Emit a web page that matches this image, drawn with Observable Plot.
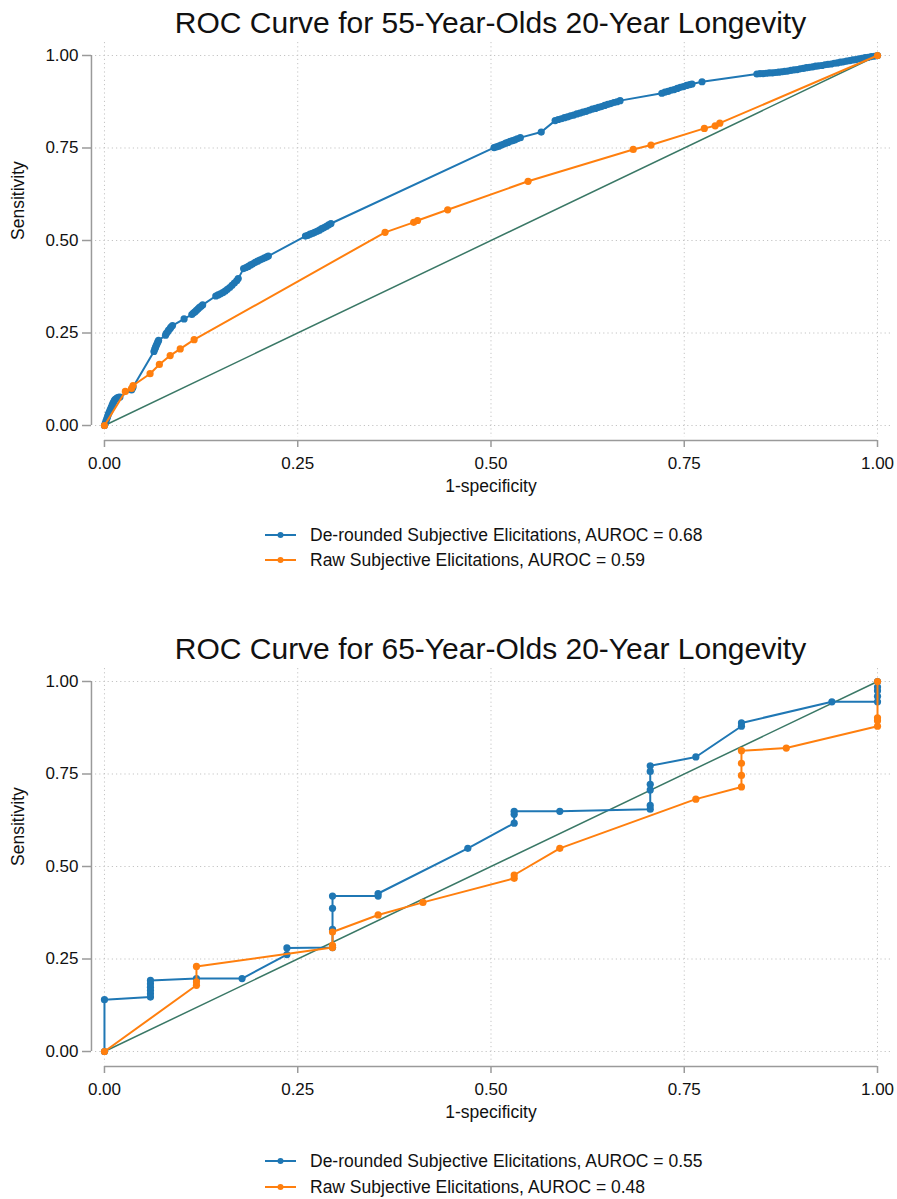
<!DOCTYPE html>
<html>
<head>
<meta charset="utf-8">
<script src="https://cdn.jsdelivr.net/npm/d3@7"></script>
<script src="https://cdn.jsdelivr.net/npm/@observablehq/plot@0.6"></script>
<style>
  html, body { margin: 0; padding: 0; background: #fff; }
  body { width: 897px; height: 1199px; position: relative; overflow: hidden;
         font-family: "Liberation Sans", Arial, sans-serif; color: #111; }
  .title { position: absolute; left: 90px; width: 801px; text-align: center;
           font-size: 30px; line-height: 30px; white-space: nowrap; }
  .chart { position: absolute; left: 0; }
  .leg { position: absolute; left: 265px; height: 20px; display: flex; align-items: center;
         font-size: 17.5px; white-space: nowrap; }
  .leg svg { margin-right: 14px; }
</style>
</head>
<body>
<script>
// ---------- data ----------
const xTicks = [0, 0.25, 0.5, 0.75, 1];
const yTicks = [0, 0.25, 0.5, 0.75, 1];
const refLine = [[0, 0], [1, 1]];

const titles = [
  "ROC Curve for 55-Year-Olds 20-Year Longevity",
  "ROC Curve for 65-Year-Olds 20-Year Longevity"
];
const seriesNames = ["De-rounded Subjective Elicitations", "Raw Subjective Elicitations"];
const aurocs55 = [0.68, 0.59];
const aurocs65 = [0.55, 0.48];

// 55-year-olds: [1-specificity, sensitivity]
const deRounded55 = [
  [0,0],[0.001,0.006],[0.002,0.012],[0.003,0.018],[0.004,0.024],[0.005,0.030],[0.006,0.035],[0.007,0.040],[0.008,0.045],
  [0.009,0.050],[0.010,0.055],[0.011,0.060],[0.012,0.064],[0.013,0.068],[0.014,0.071],[0.016,0.074],[0.018,0.076],[0.020,0.077],
  [0.035,0.096],[0.036,0.100],[0.037,0.104],
  [0.064,0.200],[0.065,0.206],[0.066,0.211],[0.067,0.216],[0.068,0.221],[0.069,0.226],[0.070,0.230],
  [0.079,0.244],[0.080,0.249],[0.082,0.254],[0.083,0.258],[0.085,0.262],[0.086,0.266],[0.088,0.270],
  [0.103,0.288],
  [0.113,0.300],[0.115,0.304],[0.117,0.307],[0.119,0.311],[0.121,0.315],[0.123,0.319],[0.125,0.322],[0.127,0.326],
  [0.144,0.350],[0.147,0.353],[0.150,0.356],[0.153,0.359],[0.156,0.363],[0.159,0.368],[0.162,0.373],[0.165,0.379],
  [0.168,0.385],[0.171,0.391],[0.173,0.397],
  [0.180,0.424],[0.183,0.427],[0.186,0.430],[0.189,0.434],[0.192,0.437],[0.195,0.441],[0.198,0.444],[0.201,0.447],
  [0.204,0.450],[0.207,0.453],[0.210,0.456],[0.212,0.458],
  [0.260,0.512],[0.263,0.514],[0.266,0.517],[0.269,0.519],[0.272,0.522],[0.275,0.525],[0.278,0.528],[0.281,0.532],
  [0.284,0.535],[0.287,0.538],[0.290,0.542],[0.293,0.546],
  [0.504,0.751],[0.507,0.753],[0.510,0.755],[0.513,0.758],[0.516,0.760],[0.519,0.763],[0.522,0.765],[0.525,0.768],
  [0.528,0.770],[0.531,0.772],[0.534,0.775],[0.538,0.778],
  [0.565,0.793],
  [0.583,0.824],[0.587,0.827],[0.591,0.829],[0.595,0.832],[0.599,0.834],[0.603,0.837],[0.607,0.839],[0.611,0.842],
  [0.615,0.844],[0.619,0.847],[0.623,0.849],[0.627,0.852],[0.631,0.855],[0.635,0.857],[0.639,0.860],[0.643,0.862],
  [0.647,0.865],[0.651,0.868],[0.655,0.870],[0.659,0.873],[0.663,0.875],[0.667,0.878],
  [0.721,0.898],[0.725,0.901],[0.729,0.903],[0.733,0.906],[0.737,0.908],[0.741,0.911],[0.745,0.914],[0.749,0.916],
  [0.753,0.919],[0.757,0.921],[0.760,0.923],
  [0.773,0.929],
  [0.844,0.950],[0.848,0.951],[0.852,0.951],[0.856,0.952],[0.860,0.953],[0.864,0.953],[0.868,0.954],[0.872,0.955],
  [0.876,0.956],[0.880,0.957],[0.884,0.958],[0.888,0.960],[0.892,0.961],[0.896,0.962],[0.900,0.964],[0.904,0.965],
  [0.908,0.967],[0.912,0.968],[0.916,0.969],[0.920,0.971],[0.924,0.972],[0.928,0.973],[0.932,0.975],[0.936,0.976],
  [0.940,0.977],[0.944,0.979],[0.948,0.980],[0.952,0.982],[0.956,0.983],[0.960,0.985],[0.964,0.986],[0.968,0.988],
  [0.972,0.989],[0.976,0.991],[0.980,0.992],[0.984,0.994],[0.988,0.995],[0.992,0.997],[0.996,0.998],[1,1]
];
const raw55 = [
  [0,0],[0.027,0.092],[0.035,0.100],[0.037,0.108],[0.059,0.140],[0.071,0.165],[0.085,0.189],[0.098,0.207],[0.116,0.232],
  [0.363,0.522],[0.400,0.549],[0.405,0.554],[0.444,0.583],[0.548,0.660],[0.684,0.746],[0.707,0.758],
  [0.776,0.803],[0.790,0.810],[0.796,0.817],[1,1]
];

// 65-year-olds
const deRounded65 = [
  [0,0],[0,0.140],[0.0595,0.147],[0.0595,0.156],[0.0595,0.165],[0.0595,0.174],[0.0595,0.183],[0.0595,0.192],
  [0.119,0.197],[0.178,0.197],[0.236,0.262],[0.236,0.280],[0.295,0.281],[0.295,0.330],[0.295,0.387],[0.295,0.420],
  [0.354,0.420],[0.354,0.427],[0.470,0.549],[0.530,0.617],[0.530,0.641],[0.530,0.649],[0.589,0.649],
  [0.706,0.655],[0.706,0.665],[0.706,0.707],[0.706,0.722],[0.706,0.757],[0.706,0.772],[0.765,0.796],
  [0.824,0.879],[0.824,0.888],[0.941,0.945],[1,0.945],[1,0.960],[1,0.975],[1,0.985],[1,1]
];
const raw65 = [
  [0,0],[0.119,0.179],[0.119,0.188],[0.119,0.230],[0.295,0.281],[0.295,0.287],[0.295,0.323],[0.354,0.369],
  [0.412,0.403],[0.530,0.468],[0.530,0.477],[0.589,0.549],[0.765,0.682],[0.824,0.715],[0.824,0.746],
  [0.824,0.779],[0.824,0.813],[0.882,0.820],[1,0.879],[1,0.894],[1,0.902],[1,1]
];

// ---------- styles ----------
const FONT = '"Liberation Sans", Arial, sans-serif';
const BLUE = "#1f77b4", ORANGE = "#ff7f0e", GREEN = "#3a7866";
const AX = "#9a9a9a", GRID = "#c4c4c4", TXT = "#111";
const fmt = d3.format(".2f");

function rocChart(de, raw) {
  const X = d => d[0], Y = d => d[1];
  return Plot.plot({
    width: 897, height: 460,
    marginLeft: 95, marginRight: 7, marginTop: 2, marginBottom: 63,
    x: {domain: [-0.0116, 1.0168]},
    y: {domain: [-0.0324, 1.0351]},
    style: {fontFamily: FONT, fontSize: "17px", color: TXT, background: "white", overflow: "visible"},
    marks: [
      Plot.gridX(xTicks, {stroke: GRID, strokeOpacity: 1, strokeDasharray: "1.2,3"}),
      Plot.gridY(yTicks, {stroke: GRID, strokeOpacity: 1, strokeDasharray: "1.2,3"}),
      Plot.ruleX([0], {y1: 0, y2: 1, dx: -13, stroke: AX, strokeWidth: 1.5}),
      Plot.ruleY([0], {x1: 0, x2: 1, dy: 15, stroke: AX, strokeWidth: 1.5}),
      Plot.axisX(xTicks, {tickFormat: fmt, tickSize: 7, tickPadding: 9, dy: 3, stroke: AX, strokeWidth: 1.5, fill: TXT, label: null, fontSize: 17}),
      Plot.axisY(yTicks, {tickFormat: fmt, tickSize: 9, tickPadding: 4, dx: -4, stroke: AX, strokeWidth: 1.5, fill: TXT, label: null, fontSize: 17}),
      Plot.text(["Sensitivity"], {text: d => d, frameAnchor: "left", rotate: -90, dx: -77, fontSize: 17.5, fill: TXT}),
      Plot.text(["1-specificity"], {text: d => d, frameAnchor: "bottom", dy: 54, dx: -2, fontSize: 17.5, fill: TXT}),
      Plot.line(refLine, {x: X, y: Y, stroke: GREEN, strokeWidth: 1.5}),
      Plot.line(de, {x: X, y: Y, stroke: BLUE, strokeWidth: 2}),
      Plot.dot(de, {x: X, y: Y, r: 3.6, fill: BLUE, stroke: "none"}),
      Plot.line(raw, {x: X, y: Y, stroke: ORANGE, strokeWidth: 2}),
      Plot.dot(raw, {x: X, y: Y, r: 3.6, fill: ORANGE, stroke: "none"})
    ]
  });
}

function addTitle(text, top) {
  const d = document.createElement("div");
  d.className = "title"; d.style.top = top + "px"; d.textContent = text;
  document.body.appendChild(d);
}
function addChart(node, top) {
  const wrap = document.createElement("div");
  wrap.className = "chart"; wrap.style.top = top + "px";
  wrap.appendChild(node);
  document.body.appendChild(wrap);
}
function addLegendRow(color, label, centerY) {
  const row = document.createElement("div");
  row.className = "leg"; row.style.top = (centerY - 10) + "px";
  row.innerHTML = `<svg width="31" height="10"><line x1="0" y1="5" x2="31" y2="5" stroke="${color}" stroke-width="2"/><circle cx="15.5" cy="5" r="3" fill="${color}"/></svg><span>${label}</span>`;
  document.body.appendChild(row);
}

addTitle(titles[0], 8);
addChart(rocChart(deRounded55, raw55), 40);
addLegendRow(BLUE, `${seriesNames[0]}, AUROC = ${aurocs55[0].toFixed(2)}`, 535);
addLegendRow(ORANGE, `${seriesNames[1]}, AUROC = ${aurocs55[1].toFixed(2)}`, 560);

addTitle(titles[1], 634);
addChart(rocChart(deRounded65, raw65), 666);
addLegendRow(BLUE, `${seriesNames[0]}, AUROC = ${aurocs65[0].toFixed(2)}`, 1161);
addLegendRow(ORANGE, `${seriesNames[1]}, AUROC = ${aurocs65[1].toFixed(2)}`, 1187);
</script>
</body>
</html>
